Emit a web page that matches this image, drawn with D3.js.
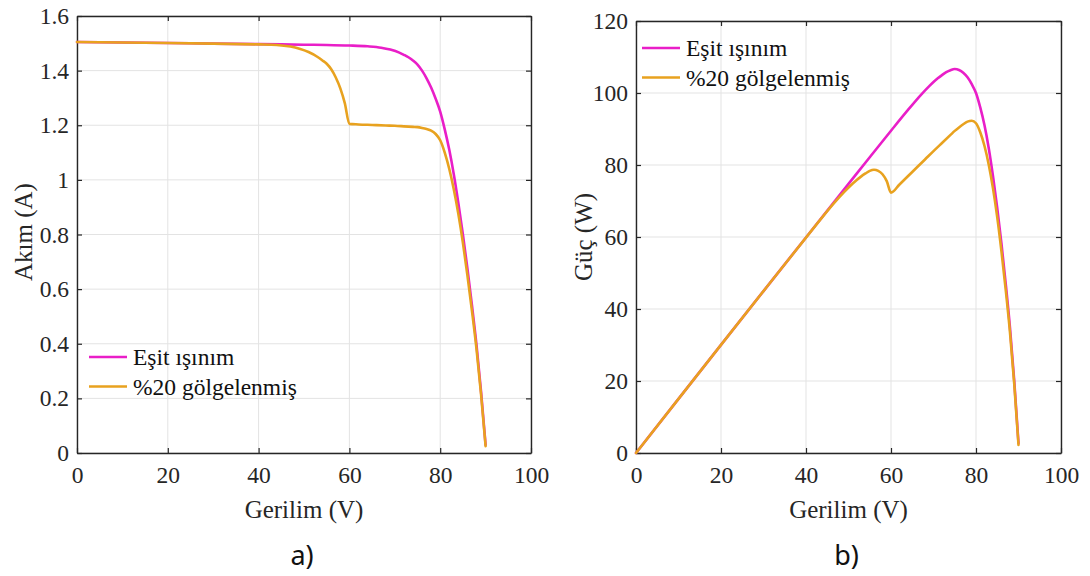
<!DOCTYPE html>
<html>
<head>
<meta charset="utf-8">
<script src="https://cdn.jsdelivr.net/npm/d3@7"></script>
<style>
  html, body { margin: 0; padding: 0; background: #fff; }
  svg { display: block; }
  svg text.serif { font-family: "Times New Roman", Times, "Liberation Serif", "Nimbus Roman", "Nimbus Roman No9 L", FreeSerif, "Noto Serif", "DejaVu Serif", Georgia, serif; }
</style>
</head>
<body>
<svg id="chart" width="1090" height="576"></svg>
<script>
// ---- data ----
const seriesNames = ["Eşit ışınım", "%20 gölgelenmiş"];
const seriesColors = ["#e91ec8", "#e8a21f"];

// Equal irradiance I-V curve
const vEqual = [0, 10, 20, 30, 40, 50, 55, 60, 64, 67, 69, 71, 72, 73, 74, 75, 76, 77, 78, 79, 80, 81, 82, 83, 84, 85, 86, 87, 88, 89, 90];
const iEqual = [1.505, 1.503, 1.501, 1.499, 1.497, 1.495, 1.494, 1.492, 1.489, 1.484, 1.477, 1.466, 1.458, 1.449, 1.437, 1.422, 1.40, 1.372, 1.338, 1.297, 1.25, 1.185, 1.11, 1.02, 0.915, 0.80, 0.675, 0.54, 0.395, 0.225, 0.03];

// 20% shaded I-V curve
const vShaded = [0, 10, 20, 30, 40, 44, 47, 49, 51, 53, 54, 55, 56, 57, 58, 59, 60, 62, 65, 68, 70, 72, 74, 75, 76, 77, 78, 79, 80, 81, 82, 83, 84, 85, 86, 87, 88, 89, 90];
const iShaded = [1.505, 1.503, 1.501, 1.499, 1.496, 1.494, 1.488, 1.480, 1.468, 1.450, 1.438, 1.425, 1.405, 1.375, 1.335, 1.28, 1.205, 1.203, 1.201, 1.199, 1.198, 1.196, 1.194, 1.193, 1.19, 1.186, 1.18, 1.168, 1.145, 1.10, 1.04, 0.965, 0.875, 0.77, 0.65, 0.52, 0.38, 0.215, 0.025];

const xTicks = [0, 20, 40, 60, 80, 100];
const yTicksI = [0, 0.2, 0.4, 0.6, 0.8, 1, 1.2, 1.4, 1.6];
const yTicksP = [0, 20, 40, 60, 80, 100, 120];
const panelLabels = ["a)", "b)"];
const xTitle = "Gerilim (V)";
const yTitles = ["Akım (A)", "Güç (W)"];

// ---- drawing ----
const svg = d3.select("#chart");
const axisColor = "#262626";
const gridColor = "#e3e3e3";

const ivSeries = [
  vEqual.map((v, i) => ({ v, y: iEqual[i] })),
  vShaded.map((v, i) => ({ v, y: iShaded[i] }))
];
const pvSeries = [
  vEqual.map((v, i) => ({ v, y: v * iEqual[i] })),
  vShaded.map((v, i) => ({ v, y: v * iShaded[i] }))
];

function panel(opts) {
  const { x0, x1, yTop, yBot, yDomain, yTicks, data, yTitle, yTitlePos, legendPos, label, fmt } = opts;
  const x = d3.scaleLinear().domain([0, 100]).range([x0, x1]);
  const y = d3.scaleLinear().domain(yDomain).range([yBot, yTop]);
  const g = svg.append("g");

  // grid
  g.append("g").selectAll("line").data(xTicks).join("line")
    .attr("x1", d => x(d)).attr("x2", d => x(d))
    .attr("y1", yTop).attr("y2", yBot)
    .attr("stroke", gridColor).attr("stroke-width", 1);
  g.append("g").selectAll("line").data(yTicks).join("line")
    .attr("x1", x0).attr("x2", x1)
    .attr("y1", d => y(d)).attr("y2", d => y(d))
    .attr("stroke", gridColor).attr("stroke-width", 1);

  const tickStyle = sel => {
    sel.attr("font-family", null).attr("font-size", null);
    sel.select(".domain").attr("stroke", axisColor).attr("stroke-width", 1.4);
    sel.selectAll(".tick line").attr("stroke", axisColor).attr("stroke-width", 1.2);
    sel.selectAll(".tick text").attr("class", "serif").attr("fill", "#262626")
      .style("font-size", "23.5px");
  };
  g.append("g").attr("transform", `translate(0,${yBot})`)
    .call(d3.axisBottom(x).tickValues(xTicks).tickSizeInner(-5).tickSizeOuter(0).tickPadding(13).tickFormat(d3.format("d")))
    .call(tickStyle);
  g.append("g").attr("transform", `translate(0,${yTop})`)
    .call(d3.axisTop(x).tickValues(xTicks).tickSizeInner(-5).tickSizeOuter(0).tickFormat(""))
    .call(tickStyle);
  g.append("g").attr("transform", `translate(${x0},0)`)
    .call(d3.axisLeft(y).tickValues(yTicks).tickSizeInner(-5).tickSizeOuter(0).tickPadding(8).tickFormat(fmt))
    .call(tickStyle);
  g.append("g").attr("transform", `translate(${x1},0)`)
    .call(d3.axisRight(y).tickValues(yTicks).tickSizeInner(-5).tickSizeOuter(0).tickFormat(""))
    .call(tickStyle);

  // lines
  const line = d3.line().x(d => x(d.v)).y(d => y(d.y)).curve(d3.curveMonotoneX);
  g.append("g").selectAll("path").data(data).join("path")
    .attr("d", line)
    .attr("fill", "none")
    .attr("stroke", (d, i) => seriesColors[i])
    .attr("stroke-width", 2.6)
    .attr("stroke-linejoin", "round")
    .attr("stroke-linecap", "round");

  // legend
  const lg = g.append("g").attr("transform", `translate(${legendPos[0]},${legendPos[1]})`);
  seriesNames.forEach((name, i) => {
    const row = lg.append("g").attr("transform", `translate(0,${i * 29.5})`);
    row.append("line").attr("x1", 0).attr("x2", 38).attr("y1", 0).attr("y2", 0)
      .attr("stroke", seriesColors[i]).attr("stroke-width", 2.6);
    row.append("text").attr("class", "serif").attr("x", 44).attr("y", 8).text(name)
      .style("font-size", "23.5px").attr("fill", "#111");
  });

  // titles
  g.append("text").attr("class", "serif").attr("x", (x0 + x1) / 2).attr("y", 518)
    .attr("text-anchor", "middle").text(xTitle)
    .style("font-size", "25px").attr("fill", "#262626");
  g.append("text").attr("class", "serif").attr("transform", `translate(${yTitlePos[0]},${yTitlePos[1]}) rotate(-90)`)
    .attr("text-anchor", "middle").text(yTitle)
    .style("font-size", "25px").attr("fill", "#262626");
  g.append("text").attr("x", (x0 + x1) / 2 - 2).attr("y", 565)
    .attr("text-anchor", "middle").text(label)
    .attr("font-family", "Noto Sans, DejaVu Sans, sans-serif").style("font-size", "27px").attr("fill", "#111");
}

panel({
  x0: 77, x1: 531, yTop: 16, yBot: 453,
  yDomain: [0, 1.6], yTicks: yTicksI, data: ivSeries,
  yTitle: yTitles[0], yTitlePos: [32, 232], legendPos: [89, 357], label: panelLabels[0],
  fmt: d => (d === 0 || d === 1) ? String(d) : d3.format(".1f")(d)
});
panel({
  x0: 636, x1: 1061, yTop: 21, yBot: 453,
  yDomain: [0, 120], yTicks: yTicksP, data: pvSeries,
  yTitle: yTitles[1], yTitlePos: [592, 237], legendPos: [642, 48], label: panelLabels[1],
  fmt: d3.format("d")
});
</script>
</body>
</html>
